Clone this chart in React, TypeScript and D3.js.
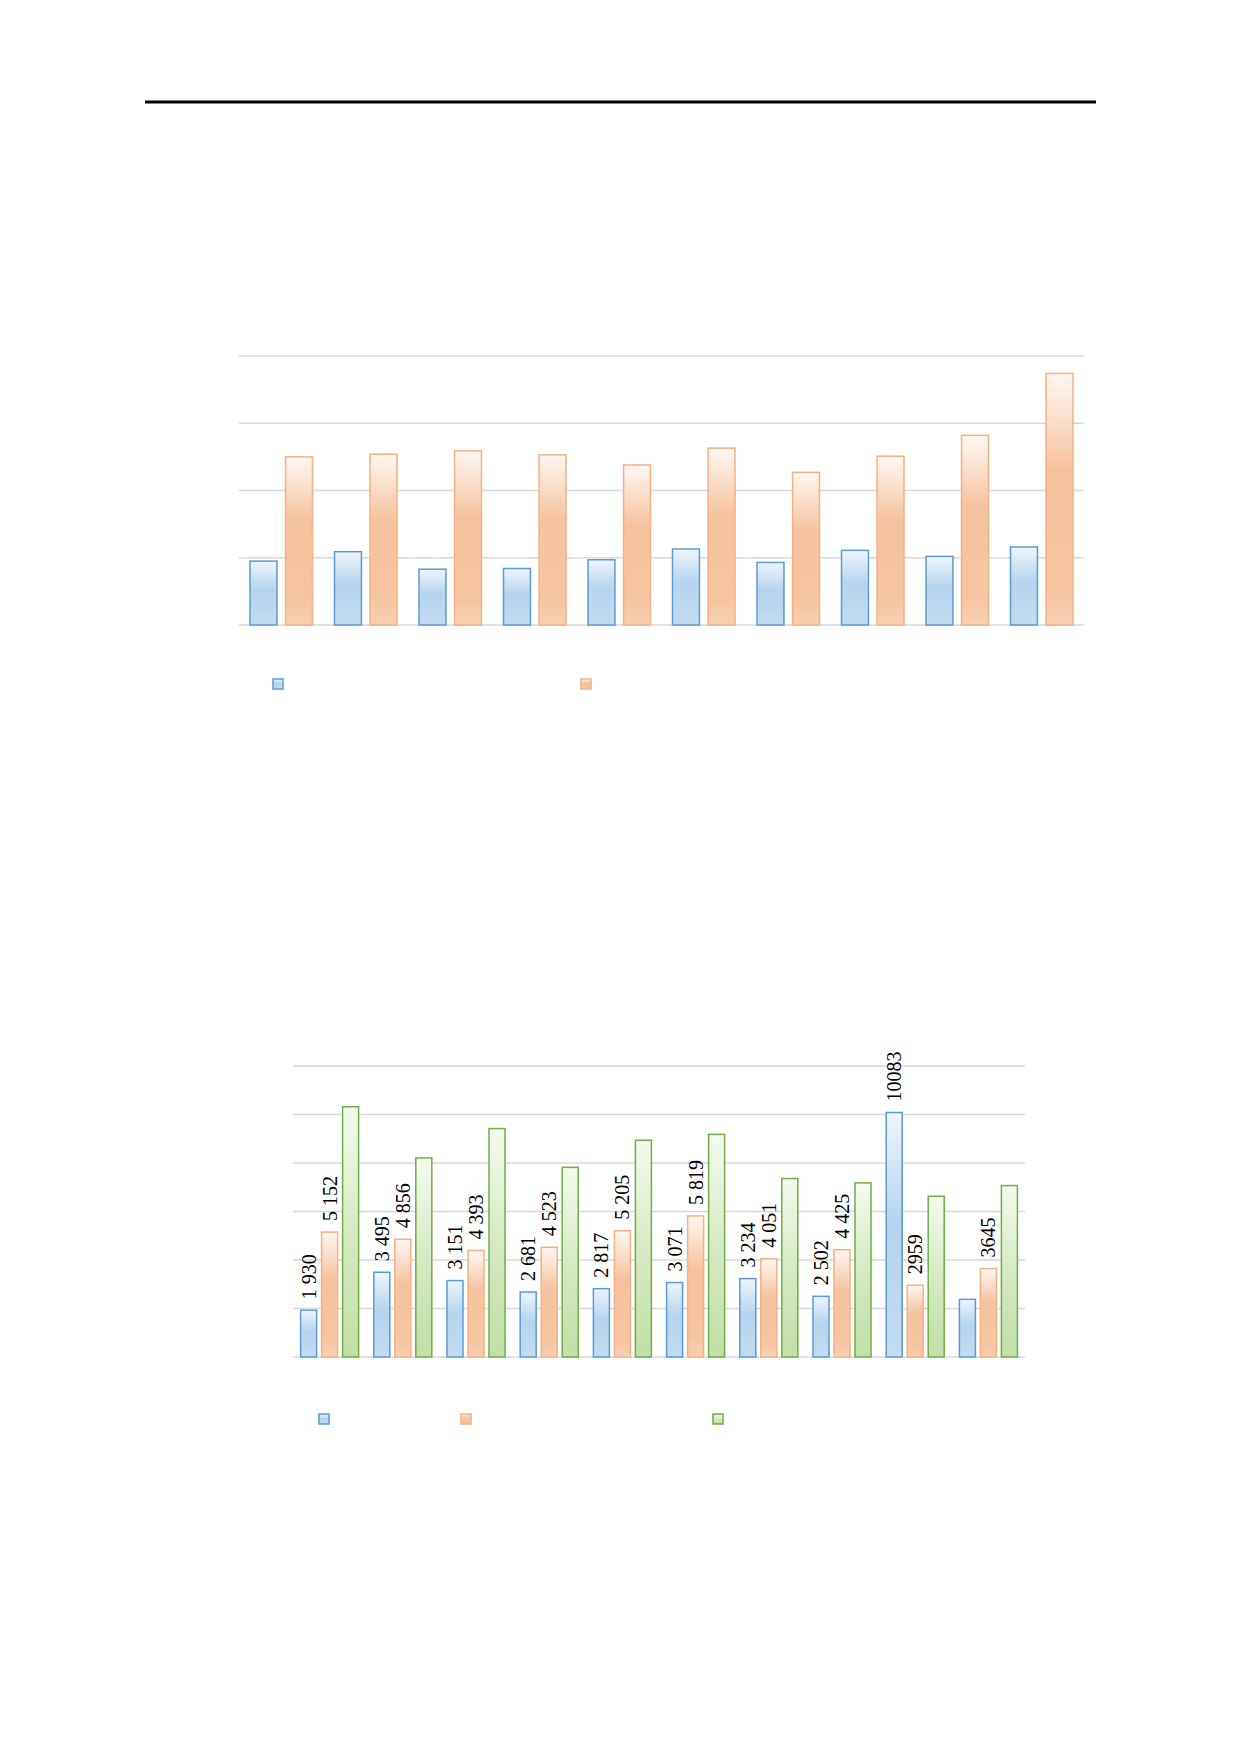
import React, { useEffect, useRef } from "react";
import * as d3 from "d3";

// chart 1 (values in thousands)
const cats1 = ["1", "2", "3", "4", "5", "6", "7", "8", "9", "10"];
const seriesA1 = [950, 1090, 830, 840, 970, 1130, 930, 1110, 1020, 1160];
const seriesB1 = [2500, 2540, 2590, 2530, 2380, 2630, 2270, 2510, 2820, 3740];
const ticks1 = [0, 1000, 2000, 3000, 4000];

// chart 2
const cats2 = ["1", "2", "3", "4", "5", "6", "7", "8", "9", "10"];
const seriesA2 = [1930, 3495, 3151, 2681, 2817, 3071, 3234, 2502, 10083, 2380];
const seriesB2 = [5152, 4856, 4393, 4523, 5205, 5819, 4051, 4425, 2959, 3645];
const seriesC2 = [10320, 8210, 9420, 7820, 8940, 9180, 7360, 7180, 6630, 7070];
const labelsA2 = ["1 930", "3 495", "3 151", "2 681", "2 817", "3 071", "3 234", "2 502", "10083", ""];
const labelsB2 = ["5 152", "4 856", "4 393", "4 523", "5 205", "5 819", "4 051", "4 425", "2959", "3645"];
const ticks2 = [0, 2000, 4000, 6000, 8000, 10000, 12000];

const styles: Record<string, { stroke: string; grad: string }> = {
  a: { stroke: "#5b9bd5", grad: "gBlue" },
  b: { stroke: "#f4b183", grad: "gOrange" },
  c: { stroke: "#70ad47", grad: "gGreen" },
};

const App: React.FC = () => {
  const svgRef = useRef<SVGSVGElement | null>(null);

  useEffect(() => {
    if (!svgRef.current) return;
    const svg = d3.select(svgRef.current);
    svg.selectAll("*").remove();

    // gradients
    const defs = svg.append("defs");
    const addGrad = (id: string, stops: [number, string][]) => {
      const g = defs
        .append("linearGradient")
        .attr("id", id)
        .attr("x1", 0)
        .attr("y1", 0)
        .attr("x2", 0)
        .attr("y2", 1);
      stops.forEach(([o, c]) => g.append("stop").attr("offset", o).attr("stop-color", c));
    };
    addGrad("gBlue", [
      [0, "#eef5fc"],
      [0.45, "#b6d4ef"],
      [1, "#c3dcf1"],
    ]);
    addGrad("gOrange", [
      [0, "#fef7f2"],
      [0.38, "#f6c3a0"],
      [0.85, "#f6c5a2"],
      [1, "#f8d0b4"],
    ]);
    addGrad("gGreen", [
      [0, "#f4faef"],
      [0.5, "#d6eac4"],
      [1, "#c2dfa8"],
    ]);

    // header rule
    svg
      .append("line")
      .attr("x1", 145)
      .attr("x2", 1096)
      .attr("y1", 102)
      .attr("y2", 102)
      .attr("stroke", "#000")
      .attr("stroke-width", 3);

    const drawChart = (opts: {
      cats: string[];
      series: { key: string; values: number[]; labels?: string[] }[];
      ticks: number[];
      x0: number;
      x1: number;
      yTop: number;
      yBase: number;
      groupPad: number;
      innerPad: number;
      legend: { x: number; y: number }[];
    }) => {
      const g = svg.append("g");
      const x = d3
        .scaleBand()
        .domain(opts.cats)
        .range([opts.x0, opts.x1])
        .paddingInner(opts.groupPad)
        .paddingOuter(opts.groupPad / 2);
      const xi = d3
        .scaleBand()
        .domain(opts.series.map((s) => s.key))
        .range([0, x.bandwidth()])
        .paddingInner(opts.innerPad);
      const y = d3
        .scaleLinear()
        .domain([0, opts.ticks[opts.ticks.length - 1]])
        .range([opts.yBase, opts.yTop]);

      g.selectAll(".grid")
        .data(opts.ticks)
        .enter()
        .append("line")
        .attr("x1", opts.x0)
        .attr("x2", opts.x1)
        .attr("y1", (d) => y(d))
        .attr("y2", (d) => y(d))
        .attr("stroke", "#d9d9d9")
        .attr("stroke-width", 1.5);

      opts.series.forEach((s) => {
        const st = styles[s.key];
        g.selectAll(`.bar-${s.key}`)
          .data(s.values)
          .enter()
          .append("rect")
          .attr("x", (_, i) => x(opts.cats[i])! + xi(s.key)! + 0.75)
          .attr("y", (d) => y(d))
          .attr("width", xi.bandwidth() - 1.5)
          .attr("height", (d) => opts.yBase - y(d))
          .attr("fill", `url(#${st.grad})`)
          .attr("stroke", st.stroke)
          .attr("stroke-width", 1.5);

        if (s.labels) {
          g.selectAll(`.lbl-${s.key}`)
            .data(s.values)
            .enter()
            .append("text")
            .attr("transform", (d, i) => {
              const cx = x(opts.cats[i])! + xi(s.key)! + xi.bandwidth() / 2;
              return `translate(${cx},${y(d) - 11}) rotate(-90)`;
            })
            .attr("dy", "0.35em")
            .attr("text-anchor", "start")
            .attr("font-family", "Liberation Serif, serif")
            .attr("font-size", 20)
            .attr("fill", "#000")
            .text((_, i) => s.labels![i]);
        }
      });

      // legend markers
      opts.series.forEach((s, i) => {
        const st = styles[s.key];
        const p = opts.legend[i];
        g.append("rect")
          .attr("x", p.x)
          .attr("y", p.y)
          .attr("width", 10)
          .attr("height", 10)
          .attr("fill", `url(#${st.grad})`)
          .attr("stroke", st.stroke)
          .attr("stroke-width", 1.5);
      });
    };

    drawChart({
      cats: cats1,
      series: [
        { key: "a", values: seriesA1 },
        { key: "b", values: seriesB1 },
      ],
      ticks: ticks1,
      x0: 239,
      x1: 1084,
      yTop: 356,
      yBase: 625,
      groupPad: 0.243,
      innerPad: 0.2,
      legend: [
        { x: 273, y: 679 },
        { x: 581, y: 679 },
      ],
    });

    drawChart({
      cats: cats2,
      series: [
        { key: "a", values: seriesA2, labels: labelsA2 },
        { key: "b", values: seriesB2, labels: labelsB2 },
        { key: "c", values: seriesC2 },
      ],
      ticks: ticks2,
      x0: 293,
      x1: 1025,
      yTop: 1066,
      yBase: 1357,
      groupPad: 0.187,
      innerPad: 0.167,
      legend: [
        { x: 319, y: 1414 },
        { x: 461, y: 1414 },
        { x: 713, y: 1414 },
      ],
    });
  }, []);

  return (
    <svg
      ref={svgRef}
      width={1240}
      height={1754}
      style={{ position: "absolute", left: 0, top: 0, background: "#fff" }}
    ></svg>
  );
};

export default App;
